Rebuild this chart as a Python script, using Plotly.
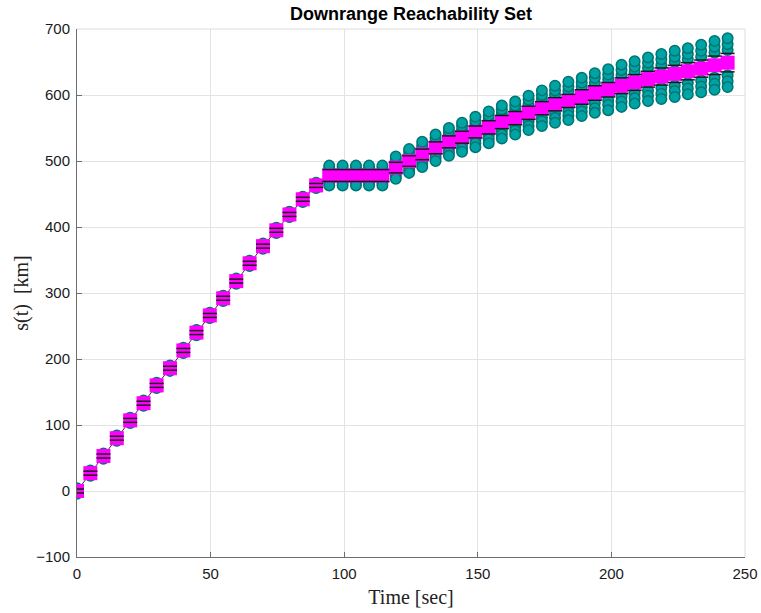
import plotly.graph_objects as go

# ---- data ----
time_sec = [0.0, 5.0, 9.9, 14.9, 19.9, 24.9, 29.8, 34.8, 39.8, 44.7,
            49.7, 54.7, 59.6, 64.6, 69.6, 74.6, 79.5, 84.5, 89.5, 94.4,
            99.4, 104.4, 109.3, 114.3, 119.3, 124.3, 129.2, 134.2, 139.2, 144.1,
            149.1, 154.1, 159.0, 164.0, 169.0, 174.0, 178.9, 183.9, 188.9, 193.8,
            198.8, 203.8, 208.7, 213.7, 218.7, 223.7, 228.6, 233.6, 238.6, 243.5]

s_mean = [0, 27, 53, 80, 107, 133, 160, 186, 213, 240,
          266, 292, 318, 345, 371, 395, 419, 442, 463, 478,
          478, 478, 478, 478, 490, 500, 510, 520, 529, 536,
          544, 551, 559, 565, 573, 580, 586, 591, 597, 603,
          608, 614, 619, 624, 628, 632, 636, 640, 645, 649]

# half-spread of reachable samples (km) at three levels
spread_outer = [4]*19 + [15]*5 + [17, 18, 19, 20, 21, 22, 23, 24, 25, 25,
                                  26, 27, 28, 29, 29, 30, 31, 32, 32, 33,
                                  34, 35, 35, 36, 37, 37]
spread_mid = [3]*19 + [11]*5 + [13, 14, 14, 15, 16, 17, 17, 18, 19, 19,
                                20, 20, 21, 22, 22, 23, 23, 24, 24, 25,
                                26, 26, 26, 27, 28, 28]
spread_inner = [2]*19 + [7]*5 + [9, 9, 10, 10, 11, 11, 12, 12, 13, 13,
                                 13, 14, 14, 15, 15, 15, 16, 16, 16, 17,
                                 17, 18, 18, 18, 19, 19]
# half-width of black bound markers (km)
bound_off = [3]*19 + [9]*5 + [8, 8, 8, 9, 9, 9, 9, 10, 10, 10,
                              10, 10, 10, 10, 11, 11, 11, 12, 12, 12,
                              13, 13, 13, 13, 14, 14]

x_ticks = [0, 50, 100, 150, 200, 250]
y_ticks = [-100, 0, 100, 200, 300, 400, 500, 600, 700]

# ---- build sample clouds ----
cx, cy = [], []
for lev in (spread_inner, spread_mid, spread_outer):
    for t, m, d in zip(time_sec, s_mean, lev):
        cx += [t, t]
        cy += [m + d, m - d]

bx, by = [], []
for t, m, d in zip(time_sec, s_mean, bound_off):
    bx += [t, t]
    by += [m + d, m - d]

fig = go.Figure()
fig.add_trace(go.Scatter(x=time_sec, y=s_mean, mode="lines",
                         line=dict(color="#333333", width=1), hoverinfo="skip"))
fig.add_trace(go.Scatter(x=cx, y=cy, mode="markers",
                         marker=dict(symbol="circle", size=10.5, color="#00A3A3",
                                     line=dict(color="#007373", width=1.5))))
fig.add_trace(go.Scatter(x=time_sec, y=s_mean, mode="markers",
                         marker=dict(symbol="square", size=14, color="#FF00FF",
                                     line=dict(width=0))))
fig.add_trace(go.Scatter(x=bx, y=by, mode="markers",
                         marker=dict(symbol="line-ew", size=10,
                                     line=dict(color="#1a1a1a", width=1.5))))

axis_common = dict(showgrid=True, gridcolor="#e3e3e3", gridwidth=1, automargin=False,
                   zeroline=False, showline=True, linecolor="#6e6e6e", linewidth=1,
                   ticks="inside", ticklen=5, tickcolor="#6e6e6e",
                   tickfont=dict(family="Liberation Sans, Arial", size=15, color="#1a1a1a"))

fig.update_layout(
    width=761, height=613,
    margin=dict(l=77, r=16, t=29, b=56),
    paper_bgcolor="white", plot_bgcolor="white",
    showlegend=False,
    title=dict(text="<b>Downrange Reachability Set</b>", x=0.54, xanchor="center",
               y=0.977, yanchor="middle",
               font=dict(family="Liberation Sans, Arial", size=18, color="black")),
    xaxis=dict(range=[0, 250], tickvals=x_ticks, ticklabelstandoff=3,
               title=dict(text="Time [sec]", standoff=8,
                          font=dict(family="Liberation Serif, Times New Roman", size=20, color="#222222")),
               **axis_common),
    yaxis=dict(range=[-100, 700], tickvals=y_ticks, ticklabelstandoff=3,
               title=dict(text="s(t)  [km]", standoff=2,
                          font=dict(family="Liberation Serif, Times New Roman", size=20, color="#222222")),
               **axis_common),
    shapes=[
        dict(type="line", xref="paper", yref="paper", x0=0, x1=1, y0=1, y1=1,
             line=dict(color="#dcdcdc", width=1)),
        dict(type="line", xref="paper", yref="paper", x0=1, x1=1, y0=0, y1=1,
             line=dict(color="#dcdcdc", width=1)),
    ],
)

fig.write_html("out.html")
